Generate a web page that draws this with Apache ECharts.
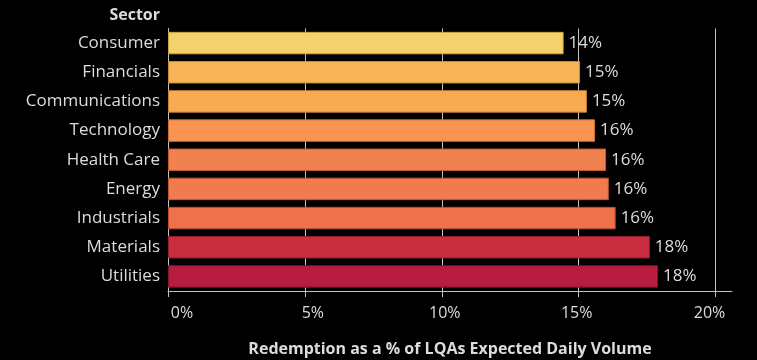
<!DOCTYPE html>
<html>
<head>
<meta charset="utf-8">
<script src="https://cdn.jsdelivr.net/npm/echarts@6/dist/echarts.min.js"></script>
<style>
  html, body { margin: 0; padding: 0; background: #000; }
  #chart { width: 757px; height: 360px; }
</style>
</head>
<body>
<div id="chart"></div>
<script>
// Sectors, top to bottom
const sectors = ['Consumer', 'Financials', 'Communications', 'Technology', 'Health Care',
                 'Energy', 'Industrials', 'Materials', 'Utilities'];
// Redemption as a % of LQAs expected daily volume
const redemptionPct = [14.45, 15.05, 15.3, 15.6, 16.0, 16.1, 16.35, 17.6, 17.9];
// Fill colours per sector
const barColors = ['#f3d26c', '#f7b457', '#f8ab53', '#fa9551', '#f1814f',
                   '#f07b4e', '#ee714c', '#c92d40', '#b81c3f'];
const borderColors = ['#c9a640', '#cc8a35', '#cc8232', '#cf6d32', '#c45a32',
                      '#c25632', '#c04c30', '#96202f', '#88132e'];
// Tick labels for the value axis
const tickValues = [0, 5, 10, 15, 20];

const FONT = 'Open Sans';
const TEXT = '#dcdcdc';
const LINE = '#c4c4c4';

// small per-label nudges so the tick labels sit where the axis author placed them
const tickRich = {
  t0: { padding: [0, 0, 0, 28] },
  t5: { padding: [0, 0, 0, 16] },
  t10: { padding: [0, 0, 0, 6] },
  t15: { padding: [0, 4, 0, 0] },
  t20: { padding: [0, 12, 0, 0] }
};
Object.keys(tickRich).forEach(k => {
  Object.assign(tickRich[k], { fontFamily: FONT, fontSize: 16, color: TEXT });
});

const chart = echarts.init(document.getElementById('chart'), null, { renderer: 'canvas' });
chart.setOption({
  backgroundColor: '#000',
  animation: false,
  grid: { left: 168, right: 25, top: 28.5, bottom: 69, containLabel: false, outerBoundsMode: 'none' },
  xAxis: {
    type: 'value',
    min: 0,
    max: 20.6,
    name: 'Redemption as a % of LQAs Expected Daily Volume',
    nameLocation: 'middle',
    nameGap: 50,
    nameTextStyle: { fontFamily: FONT, fontSize: 16, fontWeight: 'bold', color: TEXT },
    axisLine: { show: true, lineStyle: { color: LINE, width: 1 } },
    axisTick: { show: true, length: 6, customValues: tickValues, lineStyle: { color: LINE } },
    splitLine: { show: true, lineStyle: { color: LINE, width: 1 } },
    axisLabel: {
      customValues: tickValues,
      margin: 14,
      formatter: v => '{t' + v + '|' + v + '%}',
      rich: tickRich
    }
  },
  yAxis: {
    type: 'category',
    data: sectors,
    inverse: true,
    name: 'Sector',
    nameLocation: 'start',
    nameGap: 13,
    nameTextStyle: {
      fontFamily: FONT, fontSize: 16, fontWeight: 'bold', color: TEXT,
      align: 'right', verticalAlign: 'middle', padding: [0, 8, 0, 0]
    },
    axisLine: { show: true, lineStyle: { color: LINE, width: 1 } },
    axisTick: { show: false },
    splitLine: { show: false },
    axisLabel: { margin: 8, fontFamily: FONT, fontSize: 17, color: TEXT }
  },
  series: [{
    type: 'bar',
    data: redemptionPct.map((v, i) => ({
      value: v,
      itemStyle: { color: barColors[i], borderColor: borderColors[i], borderWidth: 1 }
    })),
    barCategoryGap: '23%',
    label: {
      show: true,
      position: 'right',
      distance: 5,
      formatter: p => Math.round(p.value) + '%',
      fontFamily: FONT,
      fontSize: 17,
      color: TEXT
    }
  }]
});
</script>
</body>
</html>
